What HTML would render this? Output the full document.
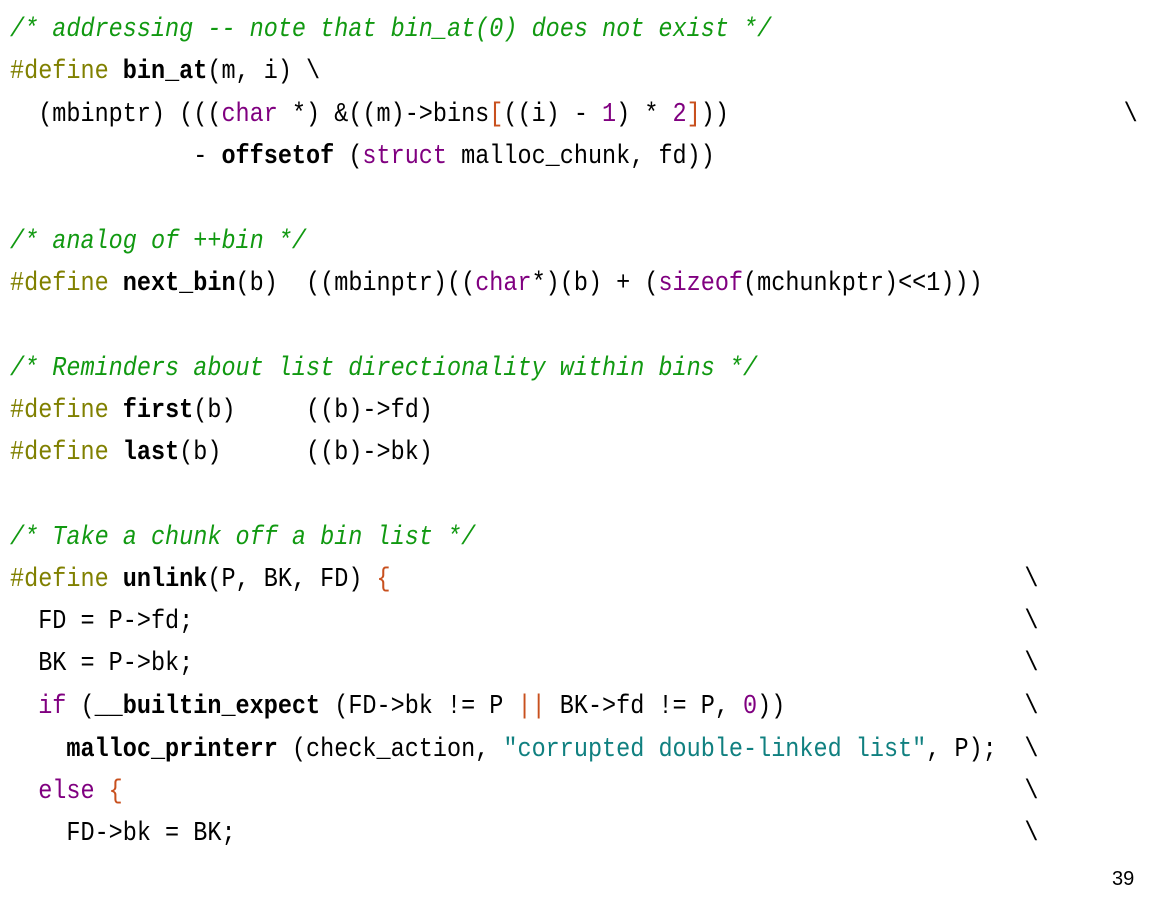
<!DOCTYPE html>
<html><head><meta charset="utf-8"><style>
body{margin:0;width:1155px;height:917px;background:#fff;overflow:hidden;position:relative}
.l{position:absolute;left:10px;height:42px;line-height:42px;font-family:"Liberation Mono",monospace;font-size:27px;white-space:pre;color:#000;transform:scaleX(0.87);transform-origin:0 50%}
.c{color:#119911;font-style:italic}
.d{color:#808000}
.b{font-weight:bold}
.k{color:#800080}
.o{color:#c8501e}
.s{color:#108080}
.bs{position:absolute;top:0}
.pg{position:absolute;left:1112px;top:868px;font-family:"Liberation Sans",sans-serif;font-size:20px}
</style></head><body>
<div class="l" style="top:9px"><span class="c">/* addressing -- note that bin_at(0) does not exist */</span></div>
<div class="l" style="top:51px"><span class="d">#define</span> <span class="b">bin_at</span>(m, i) \</div>
<div class="l" style="top:94px">  (mbinptr) (((<span class="k">char</span> *) &amp;((m)-&gt;bins<span class="o">[</span>((i) - <span class="k">1</span>) * <span class="k">2</span><span class="o">]</span>))<span class="bs" style="left:1280px">\</span></div>
<div class="l" style="top:136px">             - <span class="b">offsetof</span> (<span class="k">struct</span> malloc_chunk, fd))</div>
<div class="l" style="top:221px"><span class="c">/* analog of ++bin */</span></div>
<div class="l" style="top:263px"><span class="d">#define</span> <span class="b">next_bin</span>(b)  ((mbinptr)((<span class="k">char</span>*)(b) + (<span class="k">sizeof</span>(mchunkptr)&lt;&lt;1)))</div>
<div class="l" style="top:348px"><span class="c">/* Reminders about list directionality within bins */</span></div>
<div class="l" style="top:390px"><span class="d">#define</span> <span class="b">first</span>(b)     ((b)-&gt;fd)</div>
<div class="l" style="top:432px"><span class="d">#define</span> <span class="b">last</span>(b)      ((b)-&gt;bk)</div>
<div class="l" style="top:517px"><span class="c">/* Take a chunk off a bin list */</span></div>
<div class="l" style="top:559px"><span class="d">#define</span> <span class="b">unlink</span>(P, BK, FD) <span class="o">{</span><span class="bs" style="left:1166px">\</span></div>
<div class="l" style="top:601px">  FD = P-&gt;fd;<span class="bs" style="left:1166px">\</span></div>
<div class="l" style="top:643px">  BK = P-&gt;bk;<span class="bs" style="left:1166px">\</span></div>
<div class="l" style="top:686px">  <span class="k">if</span> (<span class="b">__builtin_expect</span> (FD-&gt;bk != P <span class="o">||</span> BK-&gt;fd != P, <span class="k">0</span>))<span class="bs" style="left:1166px">\</span></div>
<div class="l" style="top:729px">    <span class="b">malloc_printerr</span> (check_action, <span class="s">"corrupted double-linked list"</span>, P);<span class="bs" style="left:1166px">\</span></div>
<div class="l" style="top:771px">  <span class="k">else</span> <span class="o">{</span><span class="bs" style="left:1166px">\</span></div>
<div class="l" style="top:813px">    FD-&gt;bk = BK;<span class="bs" style="left:1166px">\</span></div>
<div class="pg">39</div>
</body></html>
